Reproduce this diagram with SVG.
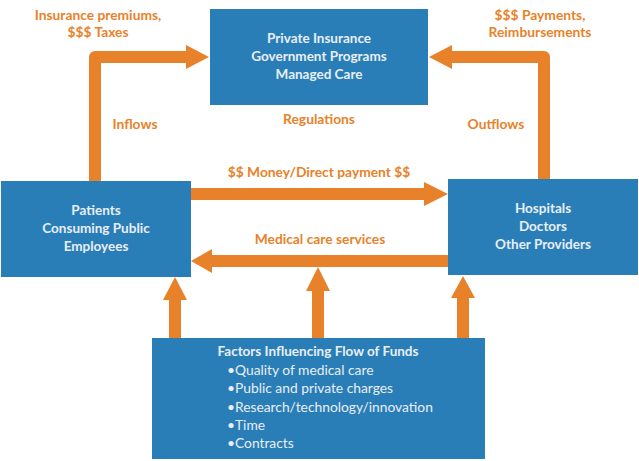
<svg xmlns="http://www.w3.org/2000/svg" width="639" height="461" viewBox="0 0 639 461">
<style>
.box{fill:#2A7EB8}
.bt{font-family:Lato,"Liberation Sans",sans-serif;font-weight:bold;font-size:13.5px;fill:#E8EEF4;text-anchor:middle}
.it{font-family:Lato,"Liberation Sans",sans-serif;font-size:13.8px;fill:#E8EEF4}
.ot{font-family:Lato,"Liberation Sans",sans-serif;font-weight:bold;font-size:13.8px;fill:#E8822A;text-anchor:middle}
.sh{fill:none;stroke:#E8822A;stroke-width:12;stroke-linejoin:round}
.hd{fill:#E8822A}
</style>
<rect width="639" height="461" fill="#fff"/>
<g id="connectors">
<path class="sh" d="M95,181 V57 H187"/>
<polygon class="hd" points="186,45 209,57 186,69"/>
<path class="sh" d="M544,179 V57 H452"/>
<polygon class="hd" points="452,45 429,57 452,69"/>
<path class="sh" d="M191,194 H425"/>
<polygon class="hd" points="424,182 448,194 424,206"/>
<path class="sh" d="M448,261 H211"/>
<polygon class="hd" points="212,249 191,261 212,273"/>
<path class="sh" d="M175,338 V299"/>
<polygon class="hd" points="163,300 175,277 187,300"/>
<path class="sh" d="M318,338 V290"/>
<polygon class="hd" points="306,291 318,267 330,291"/>
<path class="sh" d="M463,338 V297"/>
<polygon class="hd" points="451,298 463,276 475,298"/>
<text class="ot" x="98" y="20">Insurance premiums,</text>
<text class="ot" x="98" y="37">$$$ Taxes</text>
<text class="ot" x="540" y="20">$$$ Payments,</text>
<text class="ot" x="540" y="37">Reimbursements</text>
<text class="ot" x="135" y="129">Inflows</text>
<text class="ot" x="496" y="129">Outflows</text>
<text class="ot" x="319" y="124">Regulations</text>
<text class="ot" x="319" y="177">$$ Money/Direct payment $$</text>
<text class="ot" x="320" y="244">Medical care services</text>
</g>
<g id="payers">
<rect class="box" x="210" y="9" width="218" height="96"/>
<text class="bt" x="319" y="43">Private Insurance</text>
<text class="bt" x="319" y="61">Government Programs</text>
<text class="bt" x="319" y="79">Managed Care</text>
</g>
<g id="patients">
<rect class="box" x="1" y="181" width="190" height="96"/>
<text class="bt" x="96" y="215">Patients</text>
<text class="bt" x="96" y="233">Consuming Public</text>
<text class="bt" x="96" y="251">Employees</text>
</g>
<g id="providers">
<rect class="box" x="448" y="179" width="190" height="96"/>
<text class="bt" x="543" y="213">Hospitals</text>
<text class="bt" x="543" y="231">Doctors</text>
<text class="bt" x="543" y="249">Other Providers</text>
</g>
<g id="factors">
<rect class="box" x="152" y="338" width="333" height="121"/>
<text class="bt" x="318" y="356">Factors Influencing Flow of Funds</text>
<text class="it" x="227" y="375">•Quality of medical care</text>
<text class="it" x="227" y="393">•Public and private charges</text>
<text class="it" x="227" y="412">•Research/technology/innovation</text>
<text class="it" x="227" y="430">•Time</text>
<text class="it" x="227" y="448">•Contracts</text>
</g>
</svg>
